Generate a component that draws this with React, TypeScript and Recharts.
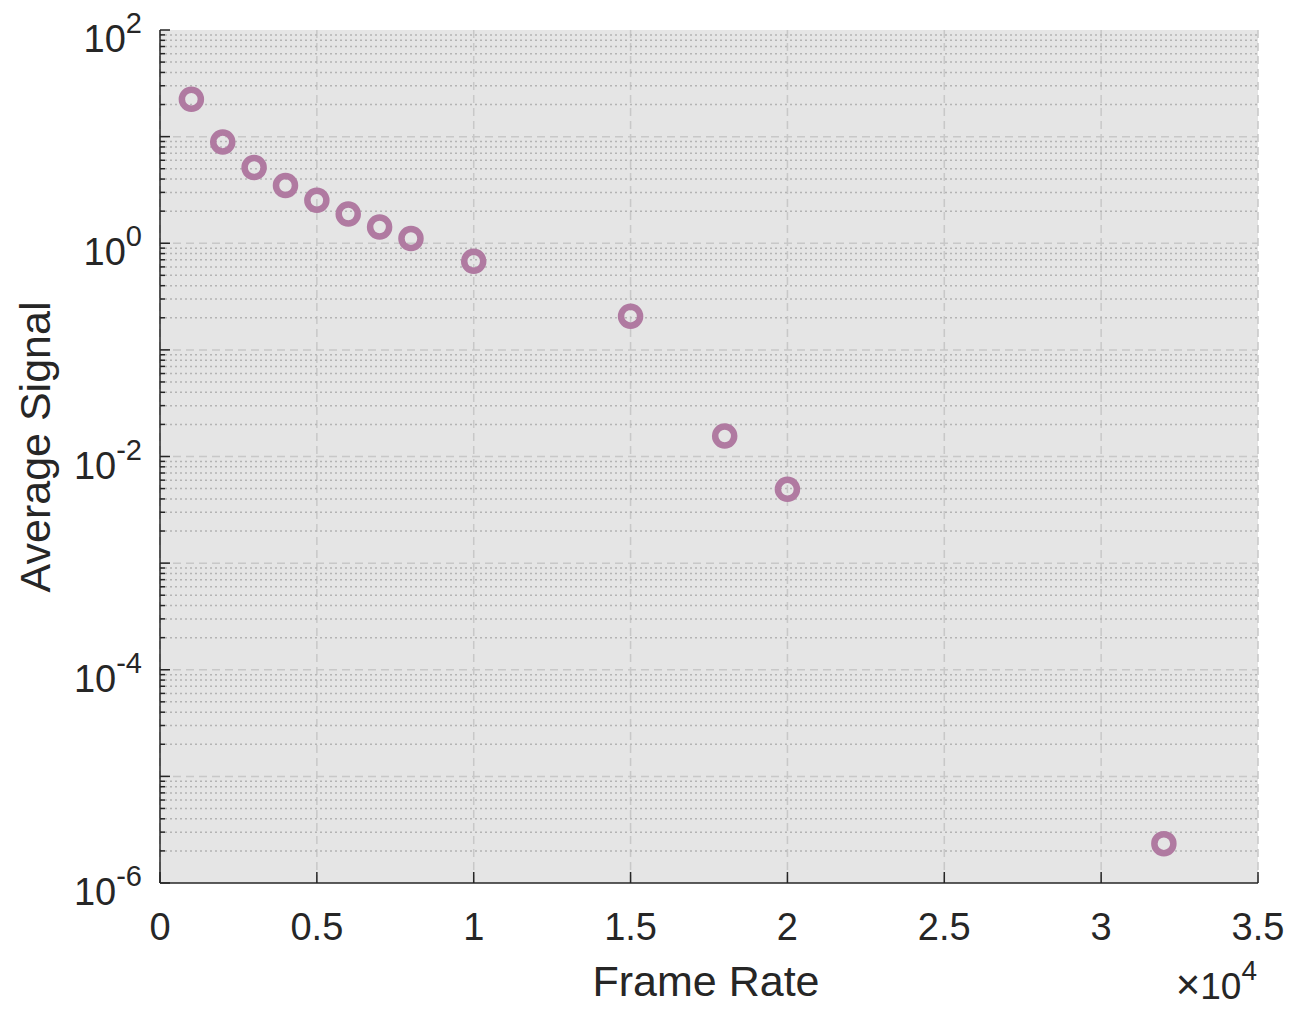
import React from "react";
import {
  ScatterChart,
  Scatter,
  XAxis,
  YAxis,
  CartesianGrid,
  ReferenceLine,
  Label,
} from "recharts";

const frameRates = [1000, 2000, 3000, 4000, 5000, 6000, 7000, 8000, 10000, 15000, 18000, 20000, 32000];
const avgSignal = [22.4, 8.92, 5.13, 3.48, 2.53, 1.88, 1.42, 1.107, 0.678, 0.207, 0.01557, 0.00492, 2.34e-6];

const xTicks = [0, 5000, 10000, 15000, 20000, 25000, 30000, 35000];
const xTickLabels = ["0", "0.5", "1", "1.5", "2", "2.5", "3", "3.5"];
const yMajorExponents = [-6, -4, -2, 0, 2];
const yDecadeExponents = [-6, -5, -4, -3, -2, -1, 0, 1, 2];
const yMinorMultipliers = [2, 3, 4, 5, 6, 7, 8, 9];

const data = frameRates.map((x, i) => ({ x, y: avgSignal[i] }));

const majorValues = yDecadeExponents.map((e) => Number((10 ** e).toPrecision(3)));
const minorValues: number[] = [];
yDecadeExponents.slice(0, -1).forEach((e) => {
  yMinorMultipliers.forEach((m) => minorValues.push(Number((m * 10 ** e).toPrecision(3))));
});
const allYTicks = [...majorValues, ...minorValues].sort((a, b) => a - b);

const FONT = "'Liberation Sans', Arial, Helvetica, sans-serif";
const TEXT = "#262626";
const AXIS = "#262626";
const MARK = "#b07aa1";

const isLabelled = (v: number) =>
  yMajorExponents.some((e) => Math.abs(Math.log10(v) - e) < 1e-6);
const isDecade = (v: number) => Math.abs(Math.log10(v) - Math.round(Math.log10(v))) < 1e-6;

const LeftTick = (props: any) => {
  const { x, y, payload } = props;
  const v = payload.value;
  const len = isDecade(v) ? 10 : 5;
  const exp = Math.round(Math.log10(v));
  return (
    <g>
      <line x1={x} x2={x + len} y1={y} y2={y} stroke={AXIS} strokeWidth={1.5} />
      {isLabelled(v) && (
        <text x={x - 18} y={y + 22} textAnchor="end" fontFamily={FONT} fontSize={38} fill={TEXT}>
          <tspan>10</tspan>
          <tspan dy={-19} fontSize={29}>{String(exp)}</tspan>
        </text>
      )}
    </g>
  );
};

const RightTick = (props: any) => {
  const { x, y, payload } = props;
  const v = payload.value;
  const len = isDecade(v) ? 10 : 5;
  return <line x1={x} x2={x - len} y1={y} y2={y} stroke={AXIS} strokeWidth={1.5} />;
};

const BottomTick = (props: any) => {
  const { x, y, payload, index } = props;
  const i = xTicks.indexOf(payload.value);
  return (
    <g>
      <line x1={x} x2={x} y1={y} y2={y - 11} stroke={AXIS} strokeWidth={1.5} />
      <text x={x} y={y + 57} textAnchor="middle" fontFamily={FONT} fontSize={38} fill={TEXT}>
        {xTickLabels[i >= 0 ? i : index]}
      </text>
    </g>
  );
};

const TopTick = (props: any) => {
  const { x, y } = props;
  return <line x1={x} x2={x} y1={y} y2={y + 11} stroke={AXIS} strokeWidth={1.5} />;
};

const Ring = (props: any) => {
  const { cx, cy } = props;
  if (cx == null || cy == null) return null;
  return <circle cx={cx} cy={cy} r={9.5} fill="none" stroke={MARK} strokeWidth={6.5} />;
};

export default function App() {
  return (
    <ScatterChart
      width={1285}
      height={1002}
      margin={{ top: 22, right: 35, left: 0, bottom: 0 }}
    >
      <CartesianGrid
        xAxisId="b"
        yAxisId="l"
        horizontal={false}
        fill="#e5e5e5"
        stroke="#c8c8c8"
        strokeWidth={1.5}
        strokeDasharray="8 5"
      />
      <XAxis
        xAxisId="b"
        dataKey="x"
        type="number"
        domain={[0, 35000]}
        ticks={xTicks}
        interval={0}
        height={127}
        tickSize={0}
        tickMargin={0}
        tickLine={false}
        axisLine={{ stroke: AXIS, strokeWidth: 1.5 }}
        tick={<BottomTick />}
      >
        <Label
          content={() => (
            <g>
              <text x={698} y={988} textAnchor="middle" fontFamily={FONT} fontSize={43} fill={TEXT}>
                Frame Rate
              </text>
              <text x={1249} y={991} textAnchor="end" fontFamily={FONT} fill={TEXT}>
                <tspan fontSize={42} fontWeight={300}>×</tspan>
                <tspan fontSize={37}>10</tspan>
                <tspan dy={-19} fontSize={28}>4</tspan>
              </text>
            </g>
          )}
        />
      </XAxis>
      <XAxis
        xAxisId="t"
        orientation="top"
        type="number"
        domain={[0, 35000]}
        ticks={xTicks}
        interval={0}
        height={0}
        tickSize={0}
        tickMargin={0}
        tickLine={false}
        axisLine={{ stroke: AXIS, strokeWidth: 1.5 }}
        tick={<TopTick />}
      />
      <YAxis
        yAxisId="l"
        dataKey="y"
        type="number"
        scale="log"
        domain={[1e-6, 100]}
        allowDataOverflow
        ticks={allYTicks}
        interval={0}
        width={152}
        tickSize={0}
        tickMargin={0}
        tickLine={false}
        axisLine={{ stroke: AXIS, strokeWidth: 1.5 }}
        tick={<LeftTick />}
      >
        <Label
          content={() => (
            <text
              x={42}
              y={439}
              transform="rotate(-90 42 439)"
              textAnchor="middle"
              fontFamily={FONT}
              fontSize={43}
              fill={TEXT}
            >
              Average Signal
            </text>
          )}
        />
      </YAxis>
      <YAxis
        yAxisId="r"
        orientation="right"
        type="number"
        scale="log"
        domain={[1e-6, 100]}
        allowDataOverflow
        ticks={allYTicks}
        interval={0}
        width={0}
        tickSize={0}
        tickMargin={0}
        tickLine={false}
        axisLine={{ stroke: AXIS, strokeWidth: 1.5 }}
        tick={<RightTick />}
      />
      {minorValues.map((v) => (
        <ReferenceLine
          key={`mi${v}`}
          xAxisId="b"
          yAxisId="l"
          y={v}
          stroke="#b4b4b4"
          strokeWidth={1.5}
          strokeDasharray="2 3"
        />
      ))}
      {majorValues.slice(1, -1).map((v) => (
        <ReferenceLine
          key={`ma${v}`}
          xAxisId="b"
          yAxisId="l"
          y={v}
          stroke="#c8c8c8"
          strokeWidth={1.5}
          strokeDasharray="8 5"
        />
      ))}
      <Scatter
        xAxisId="b"
        yAxisId="l"
        data={data}
        shape={<Ring />}
        isAnimationActive={false}
      />
    </ScatterChart>
  );
}
